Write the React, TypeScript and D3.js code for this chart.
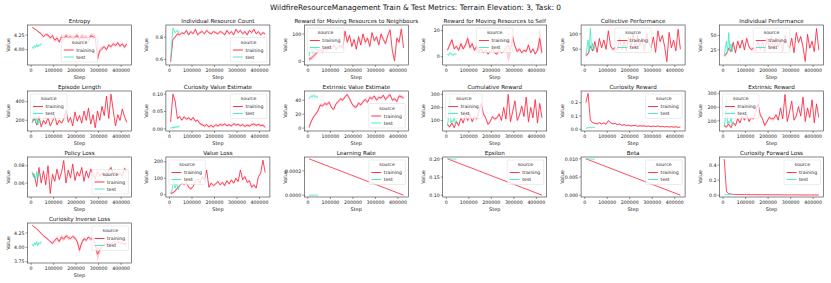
import React from 'react';
import * as d3 from 'd3';

const STEPS = [5000, 15000, 25000, 35000, 45000, 55000, 65000, 75000, 85000, 95000,
  105000, 115000, 125000, 135000, 145000, 155000, 165000, 175000, 185000, 195000,
  205000, 215000, 225000, 235000, 245000, 255000, 265000, 275000, 285000, 295000,
  305000, 315000, 325000, 335000, 345000, 355000, 365000, 375000, 385000, 395000,
  405000, 415000, 425000];
const TEST_STEPS = [5000, 10000, 15000, 20000, 25000, 30000, 35000, 40000, 45000];
const LINEAR_STEPS = [5000, 425000];
const LINEAR_TEST_STEPS = [5000, 45000];
const X_TICKS = [0, 100000, 200000, 300000, 400000];
const X_TICK_LABELS = ['0', '100000', '200000', '300000', '400000'];

const entropyTrain = [4.38, 4.36, 4.33, 4.30, 4.27, 4.22, 4.26, 4.25, 4.20, 4.24,
  4.16, 4.20, 4.13, 4.22, 4.18, 4.24, 4.20, 4.22, 4.18, 4.21,
  4.24, 4.17, 4.22, 4.19, 4.21, 4.15, 4.24, 4.22, 4.20, 3.84,
  3.98, 4.02, 4.05, 4.00, 4.08, 4.05, 4.10, 4.07, 4.12, 4.06,
  4.10, 4.04, 4.10];
const entropyBand = [0.01, 0.01, 0.015, 0.02, 0.02, 0.02, 0.02, 0.03, 0.03, 0.03,
  0.03, 0.04, 0.03, 0.04, 0.05, 0.04, 0.05, 0.04, 0.05, 0.04,
  0.05, 0.04, 0.05, 0.05, 0.04, 0.05, 0.04, 0.05, 0.05, 0.07,
  0.05, 0.04, 0.03, 0.03, 0.03, 0.03, 0.03, 0.03, 0.03, 0.03,
  0.03, 0.03, 0.03];
const entropyTest = [4.05, 4.02, 4.07, 4.04, 4.09, 4.05, 4.08, 4.07, 4.11];

const resourceCountTrain = [0.58, 0.78, 0.80, 0.83, 0.82, 0.84, 0.83, 0.86, 0.82, 0.85,
  0.83, 0.87, 0.82, 0.84, 0.85, 0.83, 0.86, 0.84, 0.83, 0.85,
  0.84, 0.83, 0.85, 0.84, 0.82, 0.86, 0.83, 0.85, 0.82, 0.87,
  0.84, 0.86, 0.83, 0.85, 0.82, 0.86, 0.84, 0.87, 0.83, 0.85,
  0.82, 0.84, 0.83];
const resourceCountTest = [0.60, 0.75, 0.88, 0.86, 0.84, 0.85, 0.86, 0.84, 0.85];

const neighboursTrain = [8, 12, 20, 28, 38, 45, 35, 50, 42, 55,
  48, 60, 45, 52, 58, 50, 110, 70, 95, 55,
  80, 45, 90, 60, 100, 70, 85, 55, 105, 75,
  90, 60, 100, 80, 65, 95, 115, 40, 2, 85,
  70, 118, 50];
const neighboursTest = [20, 40, 55, 30, 50, 35, 48, 40, 45];

const selfTrain = [5, 9, 13, 6, 8, 5, 10, 6, 9, 14,
  7, 10, 5, 8, 4, 6, 3, 5, 2, 4,
  6, 3, 2, 5, 3, 4, 7, 9, 5, 15,
  8, 4, 6, 3, 5, 4, 9, 3, 6, 2,
  5, 14, 3];
const selfBand = [1.5, 2, 2, 1.5, 1.5, 1.5, 2, 1.5, 2, 3,
  2, 2, 1.5, 1.5, 1.5, 1.5, 1, 1, 1, 1,
  1.5, 1, 1, 1.5, 1, 1, 2, 14, 4, 3,
  2, 1.5, 1.5, 1, 1.5, 1, 2, 1, 1.5, 1,
  1.5, 8, 2];
const selfTest = [2, 1, 3, 2, 2, 1, 2, 2, 2];

const collectiveTrain = [30, 35, 60, 45, 75, 40, 85, 55, 80, 50,
  110, 60, 50, 55, 48, 85, 50, 75, 45, 90,
  55, 100, 50, 95, 60, 85, 45, 100, 70, 55,
  90, 40, 110, 75, 95, 60, 10, 105, 55, 80,
  45, 115, 50];
const collectiveTest = [30, 55, 80, 40, 118, 50, 70, 45, 60];

const individualPerfTrain = [15, 18, 28, 22, 38, 20, 40, 28, 42, 25,
  45, 30, 26, 28, 24, 40, 25, 38, 22, 45,
  28, 48, 25, 46, 30, 42, 22, 50, 35, 28,
  45, 20, 55, 38, 48, 30, 5, 52, 28, 40,
  22, 62, 25];
const individualPerfTest = [15, 28, 40, 20, 55, 25, 35, 22, 30];

const episodeTrain = [180, 220, 150, 240, 130, 200, 160, 230, 140, 190,
  250, 150, 200, 170, 210, 310, 180, 230, 140, 290,
  190, 250, 170, 300, 200, 330, 160, 260, 120, 300,
  200, 350, 250, 460, 220, 480, 300, 140, 260, 200,
  320, 240, 180];
const episodeTest = [170, 250, 390, 180, 230, 150, 200, 170, 190];

const curiosityValueTrain = [0.02, 0.10, 0.08, 0.03, 0.035, 0.025, 0.035, 0.028, 0.032, 0.025,
  0.033, 0.022, 0.025, 0.015, 0.012, 0.008, 0.012, 0.006, 0.010, 0.005,
  0.012, 0.008, 0.013, 0.010, 0.014, 0.009, 0.012, 0.008, 0.015, 0.011,
  0.013, 0.009, 0.012, 0.007, 0.011, 0.008, 0.012, 0.014, 0.010, 0.013,
  0.009, 0.011, 0.004];
const curiosityValueTest = [0.003, 0.003, 0.004, 0.004, 0.005, 0.005, 0.006, 0.006, 0.007];

const extrinsicValueTrain = [1, 10, 16, 20, 25, 33, 32, 35, 34, 37,
  29, 27, 35, 38, 42, 40, 45, 48, 42, 35,
  31, 30, 36, 33, 38, 41, 37, 44, 42, 46,
  40, 44, 43, 47, 41, 45, 48, 40, 42, 38,
  46, 45, 43];
const extrinsicValueTest = [42, 44, 46, 45, 47, 45, 46, 44, 45];

const cumulativeTrain = [70, 50, 80, 45, 90, 60, 120, 80, 140, 100,
  150, 90, 130, 110, 170, 230, 150, 120, 70, 90,
  130, 110, 120, 150, 100, 200, 110, 300, 90, 170,
  250, 100, 140, 210, 130, 280, 90, 200, 120, 260,
  80, 230, 120];
const cumulativeTest = [60, 120, 280, 80, 100, 90, 130, 70, 100];

const curiosityRewardTrain = [0.20, 0.27, 0.07, 0.05, 0.045, 0.04, 0.05, 0.04, 0.048, 0.038,
  0.065, 0.05, 0.04, 0.045, 0.035, 0.04, 0.03, 0.035, 0.028, 0.032,
  0.025, 0.028, 0.03, 0.022, 0.027, 0.024, 0.026, 0.022, 0.025, 0.02,
  0.024, 0.021, 0.026, 0.019, 0.022, 0.018, 0.021, 0.017, 0.02, 0.016,
  0.019, 0.015, 0.017];
const curiosityRewardTest = [0.005, 0.01, 0.012, 0.013, 0.014, 0.013, 0.015, 0.014, 0.015];

const extrinsicRewardTrain = [65, 55, 75, 50, 85, 65, 115, 85, 135, 105,
  145, 95, 125, 115, 165, 225, 145, 115, 65, 95,
  125, 115, 115, 145, 105, 195, 115, 295, 95, 165,
  245, 105, 135, 205, 135, 275, 95, 195, 125, 255,
  85, 225, 125];
const extrinsicRewardTest = [55, 115, 270, 75, 95, 85, 125, 65, 95];

const policyLossTrain = [0.072, 0.068, 0.056, 0.078, 0.06, 0.074, 0.058, 0.08, 0.048, 0.07,
  0.062, 0.076, 0.064, 0.072, 0.086, 0.06, 0.075, 0.066, 0.082, 0.063,
  0.073, 0.068, 0.078, 0.062, 0.074, 0.066, 0.076, 0.07, 0.065, 0.073,
  0.068, 0.072, 0.07, 0.068, 0.074, 0.078, 0.07, 0.072, 0.069, 0.071,
  0.068, 0.077, 0.073];
const policyLossTest = [0.072, 0.067, 0.07, 0.064, 0.073, 0.066, 0.071, 0.069, 0.07];

const valueLossTrain = [8, 12, 22, 40, 55, 70, 60, 75, 45, 35,
  50, 80, 95, 70, 110, 90, 150, 45, 70, 55,
  65, 80, 60, 75, 55, 85, 65, 90, 70, 100,
  80, 150, 90, 110, 75, 85, 45, 60, 40, 110,
  130, 210, 135];
const valueLossTest = [5, 20, 60, 90, 40, 70, 50, 30, 60];

const learningRateTrain = [0.0003, 0.0];
const learningRateTest = [0.0, 0.0];
const epsilonTrain = [0.2, 0.1];
const epsilonTest = [0.2, 0.199];
const betaTrain = [0.01, 0.0];
const betaTest = [0.01, 0.0099];

const forwardLossTrain = [0.48, 0.05, 0.02, 0.015, 0.012, 0.011, 0.010, 0.010, 0.009, 0.009,
  0.009, 0.008, 0.008, 0.008, 0.008, 0.007, 0.007, 0.007, 0.007, 0.007,
  0.006, 0.006, 0.006, 0.006, 0.006, 0.006, 0.005, 0.005, 0.005, 0.005,
  0.005, 0.005, 0.005, 0.005, 0.004, 0.004, 0.004, 0.004, 0.004, 0.004,
  0.004, 0.004, 0.004];
const forwardLossTest = [0.015, 0.012, 0.011, 0.010, 0.010, 0.010, 0.010, 0.010, 0.010];

const inverseLossTrain = [4.38, 4.35, 4.32, 4.28, 4.24, 4.20, 4.17, 4.14, 4.10, 4.07,
  4.12, 4.16, 4.10, 4.18, 4.14, 4.20, 4.17, 4.15, 4.19, 4.16,
  4.10, 3.95, 4.08, 4.15, 4.12, 4.18, 4.14, 4.16, 4.05, 3.88,
  3.95, 4.02, 4.06, 4.04, 4.08, 4.05, 4.09, 4.06, 4.10, 4.07,
  4.08, 4.05, 4.07];
const inverseLossBand = [0.01, 0.01, 0.01, 0.015, 0.02, 0.02, 0.02, 0.02, 0.02, 0.03,
  0.03, 0.04, 0.03, 0.04, 0.04, 0.03, 0.04, 0.03, 0.03, 0.03,
  0.04, 0.06, 0.04, 0.03, 0.03, 0.03, 0.03, 0.03, 0.05, 0.12,
  0.06, 0.04, 0.03, 0.03, 0.03, 0.03, 0.03, 0.03, 0.03, 0.03,
  0.03, 0.03, 0.03];
const inverseLossTest = [4.05, 4.02, 4.08, 4.04, 4.10, 4.03, 4.08, 4.06, 4.10];

type Loc = 'upper left' | 'upper right' | 'upper center' | 'lower right' | 'lower center';
interface Chart {
  title: string; train: number[]; trainX: number[]; test: number[]; testX: number[];
  spread: number; band?: number[]; yTicks: string[]; legend: Loc;
}

const CHARTS: Chart[] = [
  { title: 'Entropy', train: entropyTrain, trainX: STEPS, test: entropyTest, testX: TEST_STEPS, spread: 0.02, band: entropyBand, yTicks: ['4.00', '4.25'], legend: 'lower center' },
  { title: 'Individual Resource Count', train: resourceCountTrain, trainX: STEPS, test: resourceCountTest, testX: TEST_STEPS, spread: 0.012, yTicks: ['0.6', '0.8'], legend: 'lower right' },
  { title: 'Reward for Moving Resources to Neighbours', train: neighboursTrain, trainX: STEPS, test: neighboursTest, testX: TEST_STEPS, spread: 8, yTicks: ['0', '100'], legend: 'upper left' },
  { title: 'Reward for Moving Resources to Self', train: selfTrain, trainX: STEPS, test: selfTest, testX: TEST_STEPS, spread: 1, band: selfBand, yTicks: ['0', '20'], legend: 'upper center' },
  { title: 'Collective Performance', train: collectiveTrain, trainX: STEPS, test: collectiveTest, testX: TEST_STEPS, spread: 5, yTicks: ['50', '100'], legend: 'upper center' },
  { title: 'Individual Performance', train: individualPerfTrain, trainX: STEPS, test: individualPerfTest, testX: TEST_STEPS, spread: 3, yTicks: ['25', '50'], legend: 'upper center' },
  { title: 'Episode Length', train: episodeTrain, trainX: STEPS, test: episodeTest, testX: TEST_STEPS, spread: 15, yTicks: ['200', '400'], legend: 'upper left' },
  { title: 'Curiosity Value Estimate', train: curiosityValueTrain, trainX: STEPS, test: curiosityValueTest, testX: TEST_STEPS, spread: 0.004, yTicks: ['0.00', '0.05', '0.10'], legend: 'upper right' },
  { title: 'Extrinsic Value Estimate', train: extrinsicValueTrain, trainX: STEPS, test: extrinsicValueTest, testX: TEST_STEPS, spread: 2.5, yTicks: ['0', '20', '40'], legend: 'lower right' },
  { title: 'Cumulative Reward', train: cumulativeTrain, trainX: STEPS, test: cumulativeTest, testX: TEST_STEPS, spread: 12, yTicks: ['100', '200', '300'], legend: 'upper left' },
  { title: 'Curiosity Reward', train: curiosityRewardTrain, trainX: STEPS, test: curiosityRewardTest, testX: TEST_STEPS, spread: 0.004, yTicks: ['0.0', '0.1', '0.2'], legend: 'upper right' },
  { title: 'Extrinsic Reward', train: extrinsicRewardTrain, trainX: STEPS, test: extrinsicRewardTest, testX: TEST_STEPS, spread: 12, yTicks: ['100', '200', '300'], legend: 'upper left' },
  { title: 'Policy Loss', train: policyLossTrain, trainX: STEPS, test: policyLossTest, testX: TEST_STEPS, spread: 0.002, yTicks: ['0.06', '0.08'], legend: 'lower right' },
  { title: 'Value Loss', train: valueLossTrain, trainX: STEPS, test: valueLossTest, testX: TEST_STEPS, spread: 8, yTicks: ['0', '100', '200'], legend: 'upper left' },
  { title: 'Learning Rate', train: learningRateTrain, trainX: LINEAR_STEPS, test: learningRateTest, testX: LINEAR_TEST_STEPS, spread: 0, yTicks: ['0.0000', '0.0002'], legend: 'upper right' },
  { title: 'Epsilon', train: epsilonTrain, trainX: LINEAR_STEPS, test: epsilonTest, testX: LINEAR_TEST_STEPS, spread: 0, yTicks: ['0.10', '0.15', '0.20'], legend: 'upper right' },
  { title: 'Beta', train: betaTrain, trainX: LINEAR_STEPS, test: betaTest, testX: LINEAR_TEST_STEPS, spread: 0, yTicks: ['0.000', '0.005', '0.010'], legend: 'upper right' },
  { title: 'Curiosity Forward Loss', train: forwardLossTrain, trainX: STEPS, test: forwardLossTest, testX: TEST_STEPS, spread: 0.003, yTicks: ['0.0', '0.2', '0.4'], legend: 'upper right' },
  { title: 'Curiosity Inverse Loss', train: inverseLossTrain, trainX: STEPS, test: inverseLossTest, testX: TEST_STEPS, spread: 0.02, band: inverseLossBand, yTicks: ['3.75', '4.00', '4.25'], legend: 'upper right' },
];

const TRAIN_COLOR = '#ff1f3a';
const TEST_COLOR = '#3de8c2';
const FONT = 'DejaVu Sans, sans-serif';
const W = 831, H = 283;
const LEFT0 = 27.5, COL_STEP = 138.4, TOP0 = 25, ROW_STEP = 66, PW = 104, PH = 40;

function Panel({ chart, idx }: { chart: Chart; idx: number }) {
  const col = idx % 6, row = Math.floor(idx / 6);
  const left = LEFT0 + col * COL_STEP, top = TOP0 + row * ROW_STEP;
  const allX = [...chart.trainX, ...chart.testX];
  const [x0, x1] = d3.extent(allX) as [number, number];
  const xp = (x1 - x0) * 0.05;
  const x = d3.scaleLinear().domain([x0 - xp, x1 + xp]).range([left, left + PW]);
  const s = chart.spread;
  const trBand = chart.band || chart.train.map(() => s);
  const teBand = chart.test.map(() => s);
  const lows = [...chart.train.map((v, i) => v - trBand[i]), ...chart.test.map((v, i) => v - teBand[i])];
  const highs = [...chart.train.map((v, i) => v + trBand[i]), ...chart.test.map((v, i) => v + teBand[i])];
  const y0 = d3.min(lows) as number, y1 = d3.max(highs) as number;
  const yp = (y1 - y0) * 0.05;
  const y = d3.scaleLinear().domain([y0 - yp, y1 + yp]).range([top + PH, top]);

  const mk = (vals: number[], xs: number[], band: number[]) => {
    const pts = vals.map((v, i) => [xs[i], v, band[i]] as [number, number, number]);
    const line = d3.line<[number, number, number]>().x(d => x(d[0])).y(d => y(d[1]))(pts) || '';
    const area = d3.area<[number, number, number]>().x(d => x(d[0])).y0(d => y(d[1] - d[2])).y1(d => y(d[1] + d[2]))(pts) || '';
    return { line, area };
  };
  const tr = mk(chart.train, chart.trainX, trBand);
  const te = mk(chart.test, chart.testX, teBand);

  const lw = 36.5, lh = 24.5, pad = 3;
  let lx = left + PW - pad - lw, ly = top + pad;
  if (chart.legend === 'upper left') { lx = left + pad; }
  if (chart.legend === 'upper center') { lx = left + PW / 2 - lw / 2; }
  if (chart.legend === 'lower right') { ly = top + PH - pad - lh; }
  if (chart.legend === 'lower center') { lx = left + PW / 2 - lw / 2; ly = top + PH - pad - lh; }

  const clipId = `clip${idx}`;
  const hasBand = s > 0 || !!chart.band;
  return (
    <g>
      <clipPath id={clipId}><rect x={left} y={top} width={PW} height={PH} /></clipPath>
      <g clipPath={`url(#${clipId})`}>
        {hasBand && <path d={tr.area} fill={TRAIN_COLOR} opacity={0.2} />}
        {s > 0 && <path d={te.area} fill={TEST_COLOR} opacity={0.2} />}
        <path d={tr.line} fill="none" stroke={TRAIN_COLOR} strokeWidth={0.8} />
        <path d={te.line} fill="none" stroke={TEST_COLOR} strokeWidth={0.8} />
      </g>
      <rect x={left} y={top} width={PW} height={PH} fill="none" stroke="#333" strokeWidth={0.6} />
      {X_TICKS.map((t, i) => (
        <g key={'x' + i}>
          <line x1={x(t)} x2={x(t)} y1={top + PH} y2={top + PH + 2} stroke="#333" strokeWidth={0.5} />
          <text x={x(t)} y={top + PH + 7.3} fontSize={4.7} textAnchor="middle" fill="#222">{X_TICK_LABELS[i]}</text>
        </g>
      ))}
      {chart.yTicks.map((lab, i) => (
        <g key={'y' + i}>
          <line x1={left - 2} x2={left} y1={y(+lab)} y2={y(+lab)} stroke="#333" strokeWidth={0.5} />
          <text x={left - 3} y={y(+lab) + 1.7} fontSize={4.7} textAnchor="end" fill="#222">{lab}</text>
        </g>
      ))}
      <text x={left + PW / 2} y={top + PH + 13.8} fontSize={5} textAnchor="middle" fill="#222">Step</text>
      <text transform={`translate(${left - 17.5},${top + PH / 2}) rotate(-90)`} fontSize={5} textAnchor="middle" fill="#222">Value</text>
      <text x={left + PW / 2} y={top - 2.5} fontSize={5.6} textAnchor="middle" fill="#111">{chart.title}</text>
      <g>
        <rect x={lx} y={ly} width={lw} height={lh} rx={1.2} fill="#fff" fillOpacity={0.8} stroke="#d0d0d0" strokeWidth={0.4} />
        <text x={lx + lw / 2} y={ly + 6} fontSize={4.7} textAnchor="middle" fill="#222">source</text>
        <line x1={lx + 2.5} x2={lx + 12.5} y1={ly + 12.5} y2={ly + 12.5} stroke={TRAIN_COLOR} strokeWidth={0.9} />
        <text x={lx + 15} y={ly + 14.2} fontSize={4.7} fill="#222">training</text>
        <line x1={lx + 2.5} x2={lx + 12.5} y1={ly + 19.5} y2={ly + 19.5} stroke={TEST_COLOR} strokeWidth={0.9} />
        <text x={lx + 15} y={ly + 21.2} fontSize={4.7} fill="#222">test</text>
      </g>
    </g>
  );
}

export default function App() {
  return (
    <svg width={W} height={H} style={{ position: 'absolute', left: 0, top: 0, background: '#fff' }} fontFamily={FONT}>
      <rect width={W} height={H} fill="#fff" />
      <text x={415.5} y={10} fontSize={7.4} textAnchor="middle" fill="#111">
        WildfireResourceManagement Train &amp; Test Metrics: Terrain Elevation: 3, Task: 0
      </text>
      {CHARTS.map((c, i) => <Panel key={i} chart={c} idx={i} />)}
    </svg>
  );
}
